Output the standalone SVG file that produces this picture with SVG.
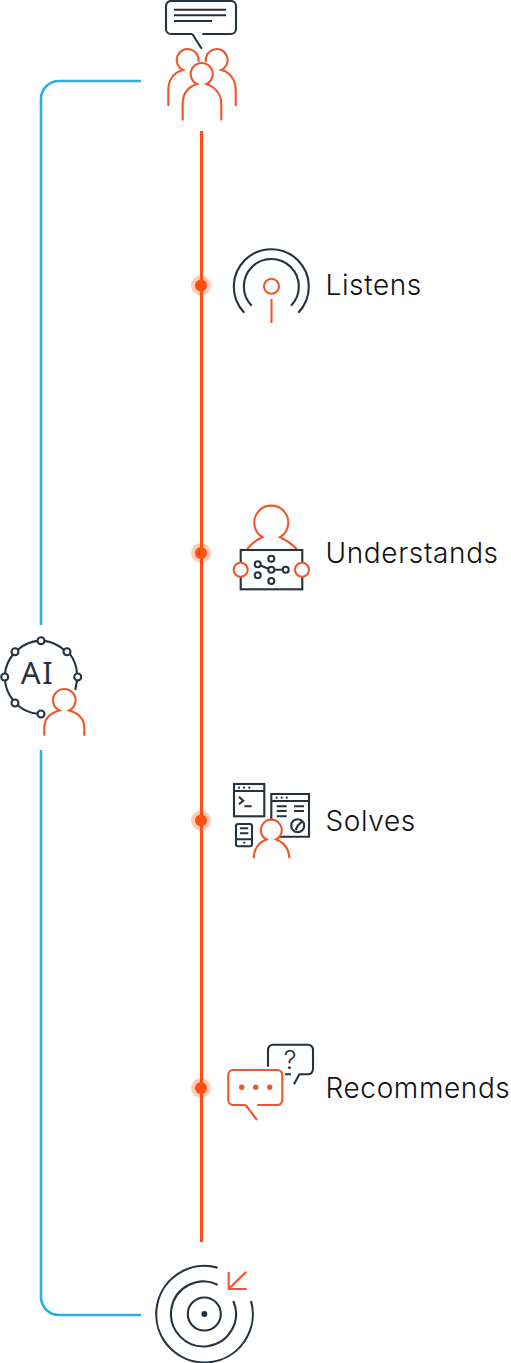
<svg xmlns="http://www.w3.org/2000/svg" width="511" height="1363" viewBox="0 0 511 1363">
<style>
.d{fill:none;stroke:#26323d;stroke-width:2.1}
.o{fill:none;stroke:#f0562a;stroke-width:2.1}
.df{fill:#26323d}
.of{fill:#f0562a}
.l{font-family:Inter,"Liberation Sans",sans-serif;font-size:28px;font-weight:350;letter-spacing:.62px;fill:#111}
.halo{fill:#ff4f12;opacity:.3}
.dot{fill:#ff4f12}
.b{fill:none;stroke:#2bafe8;stroke-width:2.600}
</style>
<g id="connectors">
<path class="b" d="M41 625V99A18 18 0 0 1 59 81H141"/>
<path class="b" d="M41 750V1297A18 18 0 0 0 59 1315H141"/>
<path d="M201.500 131V1242" fill="none" stroke="#ff4f12" stroke-width="3"/>
</g>
<g id="dots">
<circle class="halo" cx="201" cy="285.500" r="10"/><circle class="dot" cx="201" cy="285.500" r="6"/>
<circle class="halo" cx="201" cy="553" r="10"/><circle class="dot" cx="201" cy="553" r="6"/>
<circle class="halo" cx="201" cy="820.500" r="10"/><circle class="dot" cx="201" cy="820.500" r="6"/>
<circle class="halo" cx="201" cy="1088" r="10"/><circle class="dot" cx="201" cy="1088" r="6"/>
</g>
<g id="people">
<path class="d" d="M192.300 34H171A5 5 0 0 1 166 29V6A5 5 0 0 1 171 1H231A5 5 0 0 1 236 6V29A5 5 0 0 1 231 34H202.300M192.300 34L201.700 48.700M174 9.700H226M174 15.300H226M174 21H212"/>
<path class="o" d="M168.300 106V90C168.300 80 174 72 183 70A11 11 0 1 1 198.500 62"/>
<path class="o" d="M235.700 106V90C235.700 80 230 72 221.400 70A11 11 0 1 0 205.900 62"/>
<path class="o" d="M182.700 120.500V104C182.700 94 188 87 197 84A11 11 0 1 1 206.400 84C215 87 221.300 94 221.300 104V120.500"/>
</g>
<g id="listens">
<path class="d" d="M244.300 312.700A37.500 37.500 0 1 1 298.300 312.700M251.700 305.700A27.500 27.500 0 1 1 291 305.700"/>
<circle class="o" cx="271.500" cy="286.300" r="7.500"/>
<path class="o" d="M271.500 299V323"/>
<text class="l" x="325.500" y="295">Listens</text>
</g>
<g id="understands">
<path class="o" d="M247.300 549C251 544 256 540 262.500 537.200A17 17 0 1 1 280 537.200C286 540 292 544 296.700 549"/>
<rect class="d" x="240.700" y="550" width="61.600" height="39.300"/>
<circle class="o" style="fill:#fff" cx="240.700" cy="569.700" r="7"/>
<circle class="o" style="fill:#fff" cx="302" cy="569.700" r="7"/>
<path class="d" d="M260.500 565.500L268.500 568.800M274.300 569.700H282.700"/>
<circle class="d" cx="257.700" cy="564.300" r="3"/>
<circle class="d" cx="271.300" cy="558.700" r="3"/>
<circle class="d" cx="271.300" cy="569.700" r="3"/>
<circle class="d" cx="285.700" cy="569.700" r="3"/>
<circle class="d" cx="257.700" cy="575.300" r="3"/>
<circle class="d" cx="271.300" cy="581" r="3"/>
<text class="l" x="325.500" y="562.700">Understands</text>
</g>
<g id="ai">
<path class="d" d="M44.500 640.900A36.500 36.500 0 0 1 64 650M70 654A36.500 36.500 0 0 1 77 673.500M77 680.500L75.300 690M37.500 713.800A36.500 36.500 0 0 1 18 705.500M13 700A36.500 36.500 0 0 1 5 680.500M5 673.500A36.500 36.500 0 0 1 13 654.500M18 649.500A36.500 36.500 0 0 1 37.500 640.900"/>
<circle class="d" cx="41" cy="640.700" r="3.500"/>
<circle class="d" cx="67" cy="651.700" r="3.500"/>
<circle class="d" cx="77.700" cy="677" r="3.500"/>
<circle class="d" cx="4.700" cy="677" r="3.500"/>
<circle class="d" cx="15" cy="651.700" r="3.500"/>
<circle class="d" cx="15" cy="703" r="3.500"/>
<circle class="d" cx="41" cy="714" r="3.500"/>
<text x="37.500" y="683.500" text-anchor="middle" font-family="'Noto Sans',sans-serif" font-weight="400" font-size="31" letter-spacing="1.500" fill="#26323d">AI</text>
<path class="o" d="M44.300 735.700V728C44.300 719 50 713 59.500 710.500A11.300 11.300 0 1 1 69.100 710.500C78 713 84.300 719 84.300 728V735.700"/>
</g>
<g id="solves">
<rect class="d" x="234" y="784" width="30.300" height="32.300"/>
<path class="d" d="M234 791H264.300M239 796.700L243.300 800.700L239 804.300M244.300 806.300H251.700"/>
<circle class="df" cx="239" cy="787.700" r="1.100"/><circle class="df" cx="244" cy="787.700" r="1.100"/><circle class="df" cx="249.300" cy="787.700" r="1.100"/>
<path class="d" d="M271.300 822V794H309V836.700H280M271.300 801H309M276.700 806.300H286.700M276.700 811H286.700M276.700 816.300H286.700M294 806.300H304M294 811H304"/>
<circle class="df" cx="276.700" cy="797.700" r="1.100"/><circle class="df" cx="281.700" cy="797.700" r="1.100"/><circle class="df" cx="286.700" cy="797.700" r="1.100"/>
<circle class="d" cx="297.700" cy="825.700" r="6.500"/>
<path class="d" d="M301.700 821.700L297.700 825.700L295.700 830"/>
<rect class="d" x="236" y="824" width="16" height="22.300" rx="2"/>
<path class="d" d="M240 828.300H248.300M240 833.300H248.300M236 839.300H252"/>
<circle class="df" cx="244.300" cy="842.700" r="1.100"/>
<path class="o" style="fill:#fff" d="M253.700 858.300C254 849 258 842.500 266.500 839.500A10.500 10.500 0 1 1 276.100 839.500C284 842.500 289 849 289.300 858.300"/>
<text class="l" x="325.500" y="830.500">Solves</text>
</g>
<g id="recommends">
<path class="d" d="M268 1066.700V1050A5 5 0 0 1 273 1044.700H308A5 5 0 0 1 313 1050V1069A5 5 0 0 1 308 1074.300H299.300L294 1084.300M291 1074.300H285"/>
<text x="290" y="1069" text-anchor="middle" font-family="Inter,sans-serif" font-weight="300" font-size="26" fill="#26323d">?</text>
<path class="o" d="M245.700 1105H233A5 5 0 0 1 228.300 1100V1075A5 5 0 0 1 233 1070H277A5 5 0 0 1 282.300 1075V1100A5 5 0 0 1 277 1105H257.300M245.700 1105L257 1120"/>
<circle class="of" cx="241.700" cy="1087.300" r="2.700"/><circle class="of" cx="255.700" cy="1087.300" r="2.700"/><circle class="of" cx="269.700" cy="1087.300" r="2.700"/>
<text class="l" x="325.500" y="1098">Recommends</text>
</g>
<g id="target">
<circle class="d" cx="204.300" cy="1314" r="16.500"/>
<circle class="df" cx="204.300" cy="1314" r="3"/>
<path class="d" d="M217.700 1284.700A32.500 32.500 0 1 0 233.300 1301M217.700 1267.700A48.300 48.300 0 1 0 251 1301"/>
<path class="o" d="M246.300 1271.700L228.700 1289M228.700 1272V1289H246.700"/>
</g>
</svg>
